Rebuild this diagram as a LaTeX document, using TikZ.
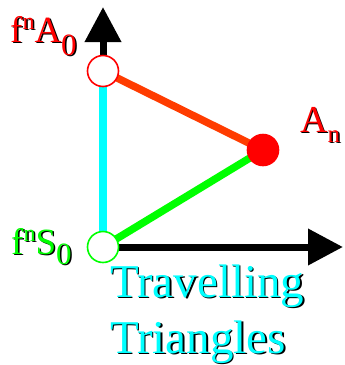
\documentclass[tikz,border=0pt]{standalone}
\usepackage{fontspec}
\setmainfont{Liberation Serif}
\usetikzlibrary{arrows.meta}
\definecolor{lred}{RGB}{255,0,0}
\definecolor{lorange}{RGB}{255,60,0}
\definecolor{lgreen}{RGB}{0,255,0}
\definecolor{lcyan}{RGB}{0,255,255}
\newcommand\txtA{\fontsize{37}{37}\selectfont f\raisebox{13pt}{\fontsize{24}{24}\selectfont n}A\raisebox{-13pt}{\fontsize{31}{31}\selectfont 0}}
\newcommand\txtS{\fontsize{37}{37}\selectfont f\raisebox{13pt}{\fontsize{24}{24}\selectfont n}S\raisebox{-10pt}{\fontsize{31}{31}\selectfont 0}}
\newcommand\txtAn{\fontsize{38}{38}\selectfont A\raisebox{-10pt}{\fontsize{25}{25}\selectfont n}}
\begin{document}
\begin{tikzpicture}[x=1pt,y=-1pt,
  pt/.style={circle,minimum size=31pt,inner sep=0pt,line width=1.6pt},
  edge/.style={line width=7.5pt},
  axis/.style={line width=7pt,-{Triangle[width=35pt,length=35pt]}},
  lbl/.style={inner sep=0pt,anchor=base west},
  shd/.style={lbl,text=black},
  big/.style={font=\fontsize{47}{47}\selectfont}]
\useasboundingbox (0,0) rectangle (345,365);
\fill[white] (0,0) rectangle (345,365);
\node[pt] (A0p) at (103,71) {};
\node[pt] (Anp) at (263,150) {};
\node[pt] (S0p) at (103,247) {};
\coordinate (ytip) at (103,7);
\coordinate (xtip) at (343,247);
% axes
\draw[axis] (A0p.center) -- (ytip);
\draw[axis] (S0p.center) -- (xtip);
% triangle edges
\draw[edge,lcyan] (A0p.center) -- (S0p.center);
\draw[edge,lorange] (A0p.center) -- (Anp.center);
\draw[edge,lgreen] (Anp.center) -- (S0p.center);
% circles on top
\node[pt,draw=lred,fill=white] (A0) at (A0p) {};
\node[pt,draw=lred,fill=lred] (An) at (Anp) {};
\node[pt,draw=lgreen,fill=white] (S0) at (S0p) {};
% labels with shadows
\node[shd] (lA0s) at (11.5,43.5) {\txtA};
\node[lbl,text=lred] (lA0) at (10,42) {\txtA};
\node[shd] (lAns) at (301.5,133.5) {\txtAn};
\node[lbl,text=lred] (lAn) at (300,132) {\txtAn};
\node[shd] (lS0s) at (12.5,255.5) {\txtS};
\node[lbl,text=lgreen] (lS0) at (11,254) {\txtS};
\node[shd,big] (t1s) at (111.5,298.5) {Travelling};
\node[lbl,big,text=lcyan] (t1) at (110,297) {Travelling};
\node[shd,big] (t2s) at (111.5,354.5) {Triangles};
\node[lbl,big,text=lcyan] (t2) at (110,353) {Triangles};
\end{tikzpicture}
\end{document}
